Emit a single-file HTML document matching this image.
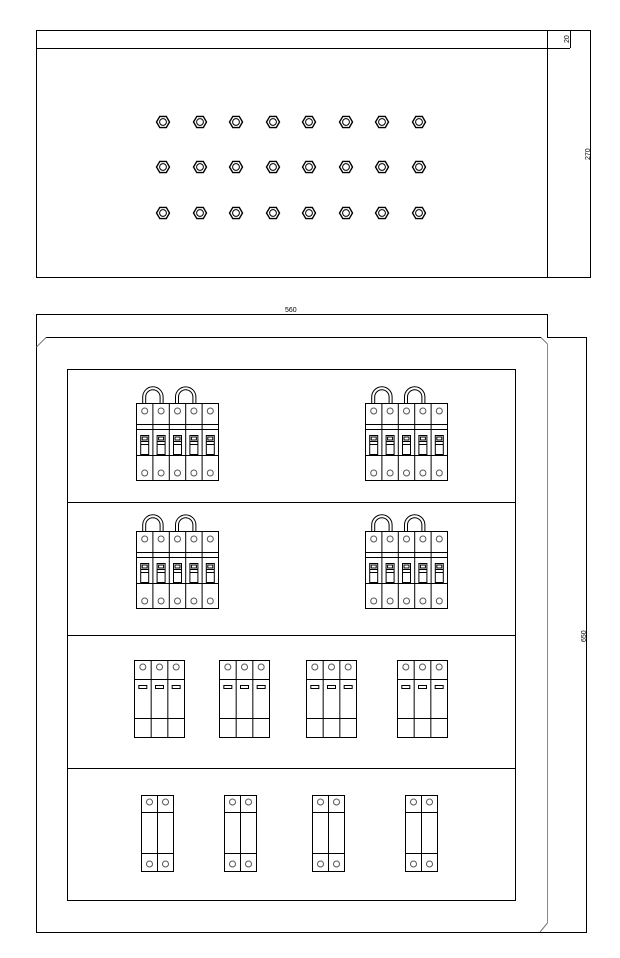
<!DOCTYPE html>
<html><head><meta charset="utf-8"><style>
html,body{margin:0;padding:0;background:#fff;width:620px;height:958px;overflow:hidden}
svg{display:block}
text{font-family:"Liberation Sans",sans-serif;font-size:7px;fill:#000}
</style></head><body>
<svg id="s" width="620" height="958" viewBox="0 0 620 958" xmlns="http://www.w3.org/2000/svg" fill="none" stroke="#000" stroke-width="1">
<line x1="36" y1="30.5" x2="591" y2="30.5"/>
<line x1="36.5" y1="30" x2="36.5" y2="277"/>
<line x1="36" y1="48.5" x2="570" y2="48.5"/>
<line x1="547.5" y1="30" x2="547.5" y2="277"/>
<line x1="570.5" y1="30" x2="570.5" y2="48"/>
<line x1="590.5" y1="30" x2="590.5" y2="277"/>
<line x1="36" y1="277.5" x2="591" y2="277.5"/>
<text x="0" y="0" stroke="none" transform="translate(569,43) rotate(-90)">20</text>
<text x="0" y="0" stroke="none" transform="translate(590,160) rotate(-90)">270</text>
<line x1="36" y1="314.5" x2="547" y2="314.5"/>
<text x="285" y="312" stroke="none">560</text>
<line x1="36.5" y1="314" x2="36.5" y2="932"/>
<line x1="46" y1="337.5" x2="541" y2="337.5"/>
<line x1="46" y1="337.5" x2="36.5" y2="347" stroke="#777"/>
<line x1="541" y1="337.5" x2="547.5" y2="344" stroke="#777"/>
<line x1="547.5" y1="314" x2="547.5" y2="337"/>
<line x1="547.5" y1="344" x2="547.5" y2="923" stroke="#888"/>
<line x1="547.5" y1="923" x2="540" y2="932" stroke="#777"/>
<line x1="547" y1="337.5" x2="587" y2="337.5"/>
<line x1="586.5" y1="337" x2="586.5" y2="932"/>
<line x1="36" y1="932.5" x2="587" y2="932.5"/>
<text x="0" y="0" stroke="none" transform="translate(586,642) rotate(-90)">650</text>
<rect x="67.5" y="369.5" width="448" height="531"/>
<line x1="67" y1="502.5" x2="515" y2="502.5"/>
<line x1="67" y1="635.5" x2="515" y2="635.5"/>
<line x1="67" y1="768.5" x2="515" y2="768.5"/>
<g id="g"></g>
</svg>
<script>
var g=document.getElementById('g'),h='';
function L(a,b,c,d,col){h+='<line x1="'+a+'" y1="'+b+'" x2="'+c+'" y2="'+d+'"'+(col?' stroke="'+col+'"':'')+'/>';}
function R(x,y,w,hh){h+='<rect x="'+x+'" y="'+y+'" width="'+w+'" height="'+hh+'"/>';}
function C(x,y,r,col){h+='<circle cx="'+x+'" cy="'+y+'" r="'+r+'"'+(col?' stroke="'+col+'"':'')+'/>';}
var nx=[163,200,236,273,309,346,382,419],ny=[122,167,213];
ny.forEach(function(y){nx.forEach(function(x){
 var p='';for(var i=0;i<6;i++){var a=Math.PI/3*i;p+=(x+6.5*Math.cos(a)).toFixed(1)+','+(y+6.5*Math.sin(a)).toFixed(1)+' ';}
 h+='<polygon points="'+p+'" stroke-width="1.4"/>';C(x,y,3.4,null);
});});
function B4(x,y){
 var w=82,pw=w/5;R(x+.5,y+.5,w,77);
 for(var i=1;i<5;i++)L(x+.5+pw*i,y,x+.5+pw*i,y+78);
 L(x,y+21.5,x+w,y+21.5);L(x,y+26.5,x+w,y+26.5);
 L(x,y+52.5,x+w,y+52.5);
 for(var i=0;i<5;i++){var cx=x+pw*i+pw/2+.5;
  C(cx,y+8,3,'#555');C(cx,y+70,3,'#555');
  R(cx-4,y+32.5,8,19);L(cx-4,y+38.5,cx+4,y+38.5);L(cx-4,y+41.5,cx+4,y+41.5);R(cx-2.5,y+34,5,3);
 }
 [0,2].forEach(function(k){var c1=x+pw*k+pw/2+.5;
  h+='<path d="M'+(c1-2)+' '+y+' V'+(y-6)+' a'+(pw/2+2)+' '+(pw/2+2)+' 0 0 1 '+(pw+4)+' 0 V'+y+'"/>';
  h+='<path d="M'+(c1+1)+' '+y+' V'+(y-6)+' a'+(pw/2-1)+' '+(pw/2-1)+' 0 0 1 '+(pw-2)+' 0 V'+y+'"/>';
 });
}
B4(136,403);B4(365,403);B4(136,531);B4(365,531);
function B3(x,y){var w=50,pw=w/3;R(x+.5,y+.5,w,77);
 for(var i=1;i<3;i++)L(x+.5+pw*i,y,x+.5+pw*i,y+78);
 L(x,y+19.5,x+w,y+19.5);L(x,y+58.5,x+w,y+58.5);
 for(var i=0;i<3;i++){var cx=x+pw*i+pw/2+.5;C(cx,y+7,3,'#555');R(cx-4,y+25.5,8,3);}
}
[134,219,306,397].forEach(function(x){B3(x,660);});
function B2(x,y){R(x+.5,y+.5,32,76);L(x+16.5,y,x+16.5,y+77);
 L(x,y+17.5,x+32,y+17.5);L(x,y+58.5,x+32,y+58.5);
 [x+8.5,x+24.5].forEach(function(cx){C(cx,y+7,3,'#555');C(cx,y+69,3,'#555');});
}
[141,224,312,405].forEach(function(x){B2(x,795);});
g.innerHTML=h;
</script>
</body></html>
